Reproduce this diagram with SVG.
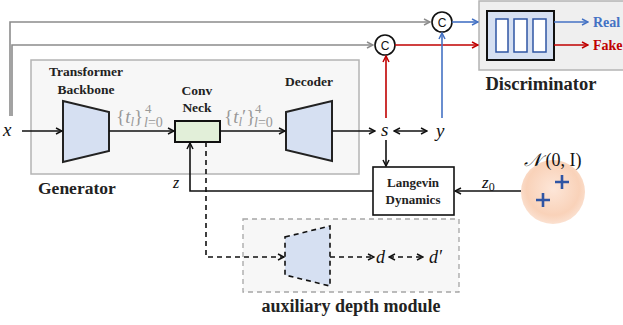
<svg xmlns="http://www.w3.org/2000/svg" width="623" height="325" viewBox="0 0 623 325">
<defs>
<style>
.lbl{font-family:"Liberation Serif","DejaVu Serif",serif;font-weight:bold;fill:#222;}
.math{font-family:"Liberation Serif","DejaVu Serif",serif;font-style:italic;fill:#111;}
.rm{font-family:"Liberation Serif","DejaVu Serif",serif;font-style:normal;fill:#111;}
.gm{font-family:"Liberation Serif","DejaVu Serif",serif;fill:#999;}
.blk{stroke:#111;stroke-width:1.6;fill:none;}
.dash{stroke:#111;stroke-width:1.6;fill:none;stroke-dasharray:5,4;}
.gray{stroke:#8c8c8c;stroke-width:1.6;fill:none;}
.red{stroke:#c00000;stroke-width:1.6;fill:none;}
.blue{stroke:#4472c4;stroke-width:1.6;fill:none;}
.trap{fill:#d6e0f2;stroke:#222;stroke-width:2;}
</style>
<marker id="ab" markerWidth="8" markerHeight="8" refX="7" refY="4" orient="auto" markerUnits="userSpaceOnUse"><path d="M1,1 L7,4 L1,7" fill="none" stroke="#111" stroke-width="1.5"/></marker>
<marker id="abs" markerWidth="8" markerHeight="8" refX="1" refY="4" orient="auto" markerUnits="userSpaceOnUse"><path d="M7,1 L1,4 L7,7" fill="none" stroke="#111" stroke-width="1.5"/></marker>
<marker id="ag" markerWidth="8" markerHeight="8" refX="7" refY="4" orient="auto" markerUnits="userSpaceOnUse"><path d="M1,1 L7,4 L1,7" fill="none" stroke="#8c8c8c" stroke-width="1.5"/></marker>
<marker id="ar" markerWidth="8" markerHeight="8" refX="7" refY="4" orient="auto" markerUnits="userSpaceOnUse"><path d="M1,1 L7,4 L1,7" fill="none" stroke="#c00000" stroke-width="1.5"/></marker>
<marker id="abl" markerWidth="8" markerHeight="8" refX="7" refY="4" orient="auto" markerUnits="userSpaceOnUse"><path d="M1,1 L7,4 L1,7" fill="none" stroke="#4472c4" stroke-width="1.5"/></marker>
<radialGradient id="peach" cx="50%" cy="45%" r="55%">
<stop offset="0" stop-color="#fde6d8"/>
<stop offset="0.75" stop-color="#f9d2b9"/>
<stop offset="1" stop-color="#f8cdb2" stop-opacity="0.6"/>
</radialGradient>
</defs>

<g id="generator">
<rect x="31" y="60" width="328" height="114" fill="#f7f7f7" stroke="#b4b4b4" stroke-width="1.5"/>
<text class="lbl" x="38" y="194" font-size="17.5">Generator</text>
</g>

<g id="aux-module">
<rect x="243" y="219" width="216" height="73" fill="#f7f7f7" stroke="#a6a6a6" stroke-width="1.3" stroke-dasharray="5,4"/>
<text class="lbl" x="351" y="312" font-size="18" text-anchor="middle">auxiliary depth module</text>
</g>

<g id="discriminator">
<rect x="479" y="1" width="150" height="69" fill="#efefef" stroke="#b4b4b4" stroke-width="1.5"/>
<rect x="487" y="11" width="67" height="49" fill="#d6e0f2" stroke="#111" stroke-width="2"/>
<rect x="496" y="19" width="12" height="33" fill="#fff" stroke="#2f55a4" stroke-width="1.5"/>
<rect x="514" y="19" width="13" height="33" fill="#fff" stroke="#2f55a4" stroke-width="1.5"/>
<rect x="533" y="19" width="13" height="33" fill="#fff" stroke="#2f55a4" stroke-width="1.5"/>
<text class="lbl" x="541" y="90" font-size="18.5" text-anchor="middle">Discriminator</text>
<text class="lbl" x="593" y="27" font-size="14" style="fill:#4472c4">Real</text>
<text class="lbl" x="593" y="50" font-size="14" style="fill:#c00000">Fake</text>
</g>

<g id="backbone">
<polygon class="trap" points="63,101 109,112 109,151 63,162"/>
<text class="lbl" x="86" y="76" font-size="13.5" text-anchor="middle">Transformer</text>
<text class="lbl" x="86" y="94" font-size="13.5" text-anchor="middle">Backbone</text>
</g>

<g id="conv-neck">
<rect x="175" y="121" width="45" height="21" fill="#e2efd9" stroke="#111" stroke-width="2"/>
<text class="lbl" x="197" y="95" font-size="13.5" text-anchor="middle">Conv</text>
<text class="lbl" x="197" y="112" font-size="13.5" text-anchor="middle">Neck</text>
</g>

<g id="decoder">
<polygon class="trap" points="286,112 332,101 332,161 286,150"/>
<text class="lbl" x="309" y="86" font-size="13.5" text-anchor="middle">Decoder</text>
</g>

<g id="langevin">
<rect x="373" y="167" width="81" height="48" fill="#fff" stroke="#111" stroke-width="1.6"/>
<text class="lbl" x="413" y="187" font-size="13" text-anchor="middle">Langevin</text>
<text class="lbl" x="413" y="204" font-size="13" text-anchor="middle">Dynamics</text>
</g>

<g id="depth-head">
<polygon points="285,237 330,226 330,286 285,275" fill="#d6e0f2" stroke="#111" stroke-width="1.6" stroke-dasharray="5,4"/>
</g>

<g id="noise">
<circle cx="553" cy="192" r="32" fill="url(#peach)"/>
<path d="M536,200 H550 M543,193 V207 M555,182 H569 M562,175 V189" stroke="#2f55a4" stroke-width="2.6" fill="none"/>
<text class="rm" x="524" y="166" font-size="18"><tspan class="math">𝒩</tspan> (0, I)</text>
</g>

<g id="concat-real">
<circle cx="442" cy="22" r="10" fill="#fff" stroke="#111" stroke-width="1.6"/>
<text x="442" y="26.5" font-family="Liberation Sans,sans-serif" font-size="12" text-anchor="middle" fill="#111">C</text>
</g>
<g id="concat-fake">
<circle cx="385" cy="45" r="10" fill="#fff" stroke="#111" stroke-width="1.6"/>
<text x="385" y="49.5" font-family="Liberation Sans,sans-serif" font-size="12" text-anchor="middle" fill="#111">C</text>
</g>

<g id="labels">
<text class="math" x="3" y="136" font-size="19">x</text>
<text class="math" x="381" y="136" font-size="19">s</text>
<text class="math" x="436" y="137" font-size="19">y</text>
<text class="math" x="173" y="188" font-size="16">z</text>
<text class="math" x="482" y="188" font-size="17">z<tspan class="rm" font-size="12" dy="3">0</tspan></text>
<text class="math" x="376" y="263" font-size="18">d</text>
<text class="math" x="429" y="263" font-size="18">d′</text>
<text class="gm" x="116" y="123" font-size="19">{<tspan font-style="italic">t</tspan><tspan font-style="italic" font-size="13" dy="3">l</tspan><tspan dy="-3">}</tspan></text>
<text class="gm" x="145" y="113" font-size="13">4</text>
<text class="gm" x="144" y="127" font-size="14"><tspan font-style="italic">l</tspan>=0</text>
<text class="gm" x="224" y="123" font-size="19">{<tspan font-style="italic">t</tspan><tspan font-style="italic" font-size="13" dy="3">l</tspan><tspan dy="-3">′}</tspan></text>
<text class="gm" x="255" y="113" font-size="13">4</text>
<text class="gm" x="254" y="127" font-size="14"><tspan font-style="italic">l</tspan>=0</text>
</g>

<g id="connectors">
<path class="gray" d="M10,116 V22 H430" marker-end="url(#ag)"/>
<path class="gray" d="M12,116 V45 H373" marker-end="url(#ag)"/>
<path class="blue" d="M452,22 H478" marker-end="url(#abl)"/>
<path class="red" d="M395,45 H478" marker-end="url(#ar)"/>
<path class="blue" d="M554,22 H588" marker-end="url(#abl)"/>
<path class="red" d="M554,45 H588" marker-end="url(#ar)"/>
<path class="red" d="M386,118 V56" marker-end="url(#ar)"/>
<path class="blue" d="M442,118 V33" marker-end="url(#abl)"/>
<path class="blk" d="M22,131 H62" marker-end="url(#ab)"/>
<path class="blk" d="M109,131 H174" marker-end="url(#ab)"/>
<path class="blk" d="M220,131 H285" marker-end="url(#ab)"/>
<path class="blk" d="M332,131 H375" marker-end="url(#ab)"/>
<path class="blk" d="M394,131 H427" marker-start="url(#abs)" marker-end="url(#ab)"/>
<path class="blk" d="M386,140 V166" marker-end="url(#ab)"/>
<path class="blk" d="M521,191 H455" marker-end="url(#ab)"/>
<path class="blk" d="M373,191 H190 V143" marker-end="url(#ab)"/>
<path class="dash" d="M206,142 V257 H284" marker-end="url(#ab)"/>
<path class="dash" d="M330,257 H374" marker-end="url(#ab)"/>
<path class="dash" d="M389,257 H423" marker-start="url(#abs)" marker-end="url(#ab)"/>
</g>
</svg>
